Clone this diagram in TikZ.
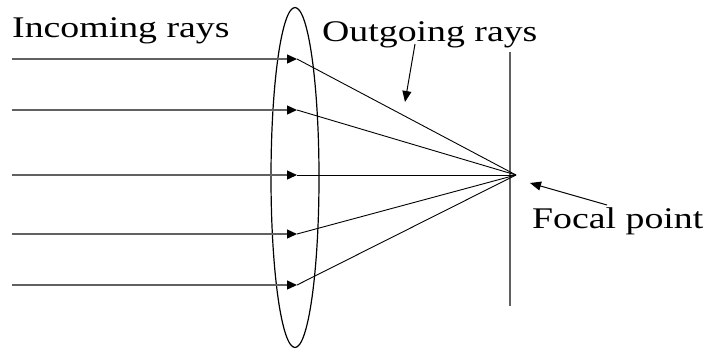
\documentclass[tikz,border=0pt]{standalone}
\usepackage{fontspec}
\setmainfont{Liberation Serif}
\usetikzlibrary{arrows.meta}
\begin{document}
\begin{tikzpicture}[x=1pt,y=-1pt,
  inray/.style={draw=black!62, line width=1.4pt, -{Triangle[length=10pt,width=9pt,color=black]}},
  outray/.style={draw=black, line width=0.9pt},
  pointer/.style={draw=black, line width=1pt, -{Triangle[length=11pt,width=9pt]}},
  lbl/.style={inner sep=0pt, anchor=base west, font=\fontsize{30}{34}\selectfont}]
\useasboundingbox (0,0) rectangle (708,349);
% lens
\draw[line width=1.2pt] (295,177.5) ellipse [x radius=24, y radius=170];
% focal plane
\coordinate (ptop) at (510,52);
\coordinate (pbot) at (510,306);
\draw[draw=black!62, line width=1.4pt] (ptop) -- (pbot);
% focal point
\coordinate (F) at (516,175);
% rays
\foreach \i/\y in {1/59,2/110,3/175,4/234,5/285}{
  \coordinate (s\i) at (12,\y);
  \coordinate (t\i) at (297,\y);
  \draw[inray] (s\i) -- (t\i);
  \draw[outray] (t\i) -- (F);
}
% labels
\node[lbl] (inc) at (12,37) {\scalebox{1.26}[1]{Incoming rays}};
\node[lbl] (out) at (322,41) {\scalebox{1.26}[1]{Outgoing rays}};
\node[lbl] (foc) at (532,228) {\scalebox{1.26}[1]{Focal point}};
% pointers
\coordinate (o1) at (415,44);
\coordinate (o2) at (405,102);
\draw[pointer] (o1) -- (o2);
\coordinate (f1) at (607,205);
\coordinate (f2) at (530,183);
\draw[pointer] (f1) -- (f2);
\end{tikzpicture}
\end{document}
